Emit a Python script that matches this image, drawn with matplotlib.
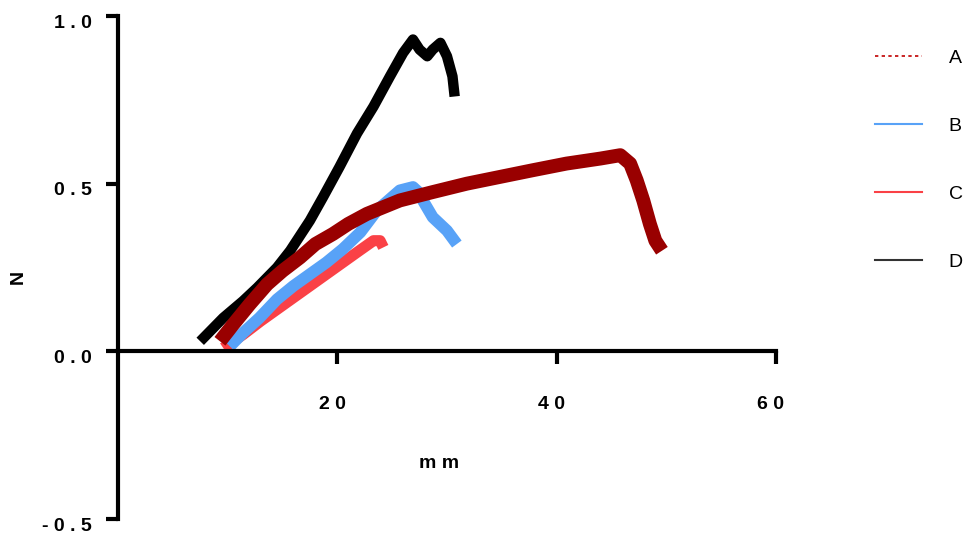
"""Force vs. displacement traces for four samples (Prism-style axes)."""

import matplotlib

matplotlib.use("Agg")
import matplotlib.pyplot as plt
import matplotlib.transforms as mtransforms
from matplotlib.lines import Line2D

plt.rcParams["font.family"] = ["Liberation Sans", "DejaVu Sans"]

# Values (x in mm, y in N).
a_x = [9.3, 10.5, 12.0, 13.6, 15.0, 16.6, 18.0, 19.6, 21.0, 22.7, 25.7, 28.7,
       31.8, 34.8, 37.8, 40.9, 44.0, 45.8, 46.7, 47.3, 47.9, 48.5, 49.0, 49.6]
a_y = [0.03, 0.08, 0.14, 0.20, 0.24, 0.28, 0.32, 0.35, 0.38, 0.41, 0.45, 0.475,
       0.50, 0.52, 0.54, 0.56, 0.575, 0.585, 0.56, 0.51, 0.45, 0.38, 0.33, 0.30]

b_x = [10.2, 11.4, 12.9, 14.5, 16.0, 17.5, 19.0, 20.5, 22.1, 23.6, 25.0, 25.7,
       26.9, 27.4, 27.8, 28.7, 30.0, 30.9]
b_y = [0.015, 0.055, 0.10, 0.155, 0.195, 0.23, 0.265, 0.305, 0.355, 0.42, 0.46, 0.48,
       0.49, 0.475, 0.45, 0.40, 0.36, 0.32]

c_x = [9.6, 10.5, 11.4, 13.0, 14.5, 16.0, 17.5, 19.0, 20.5, 22.0, 23.3, 23.9, 24.2]
c_y = [0.01, 0.03, 0.05, 0.09, 0.125, 0.16, 0.195, 0.23, 0.265, 0.30, 0.33, 0.33, 0.31]

d_x = [7.5, 8.4, 9.6, 11.4, 12.7, 14.5, 15.7, 17.5, 18.7, 20.2, 21.8, 23.3, 24.8,
       26.0, 26.9, 27.5, 28.2, 28.7, 29.4, 30.0, 30.5, 30.7]
d_y = [0.03, 0.06, 0.10, 0.15, 0.19, 0.25, 0.30, 0.39, 0.46, 0.55, 0.65, 0.73, 0.82,
       0.89, 0.93, 0.90, 0.88, 0.90, 0.92, 0.88, 0.82, 0.76]

labels = ["A", "B", "C", "D"]
x_ticks = [20, 40, 60]
y_ticks = [-0.5, 0.0, 0.5, 1.0]

fig = plt.figure(figsize=(9.63, 5.36), dpi=100)
ax = fig.add_axes([0.1225, 0.0317, 0.6833, 0.9384])

# later traces end up on top, so draw D first and A last
ax.plot(d_x, d_y, color="black", lw=7.5, solid_capstyle="butt")
ax.plot(c_x, c_y, color="#fa4146", lw=8, solid_capstyle="butt")
ax.plot(b_x, b_y, color="#58a2f7", lw=8.5, solid_capstyle="butt")
ax.plot(a_x, a_y, color="#990000", lw=10, solid_capstyle="butt")

ax.set_xlim(0, 60)
ax.set_ylim(-0.5, 1.0)

# axes cross at the origin, no frame on top/right
ax.spines["left"].set_position(("data", 0))
ax.spines["bottom"].set_position(("data", 0))
ax.spines["top"].set_visible(False)
ax.spines["right"].set_visible(False)
for side in ["left", "bottom"]:
    ax.spines[side].set_linewidth(3)
    ax.spines[side].set_capstyle("projecting")

# Prism puts a space between every character of the labels
ax.set_xticks(x_ticks)
ax.set_xticklabels([" ".join(str(t)) for t in x_ticks])
ax.set_yticks(y_ticks)
ax.set_yticklabels([" ".join(f"{t:.1f}") for t in y_ticks])
ax.tick_params(axis="both", direction="out", length=9, width=3, labelsize=14)
ax.tick_params(axis="x", pad=23)
ax.tick_params(axis="y", pad=10)
for lab in ax.get_xticklabels() + ax.get_yticklabels():
    lab.set_fontweight("bold")
for lab in ax.get_xticklabels():
    lab.set_transform(lab.get_transform()
                      + mtransforms.ScaledTranslation(-0.05, 0, fig.dpi_scale_trans))
for lab in ax.get_yticklabels():
    lab.set_transform(lab.get_transform()
                      + mtransforms.ScaledTranslation(0, -0.05, fig.dpi_scale_trans))

fig.text(0.456, 0.136, "m m", ha="center", va="center", fontsize=14,
         fontweight="bold")
fig.text(0.019, 0.483, "N", ha="center", va="center", rotation=90,
         fontsize=14, fontweight="bold")

# thin legend handles, A drawn dotted like in the original
handles = [
    Line2D([], [], color="#c00000", lw=1.2, linestyle=(0, (2, 2))),
    Line2D([], [], color="#58a2f7", lw=1.5),
    Line2D([], [], color="#fa4146", lw=1.5),
    Line2D([], [], color="#333333", lw=1.5),
]
fig.legend(handles, labels, loc="upper left", bbox_to_anchor=(0.901, 0.923),
           frameon=False, fontsize=14, handlelength=2.42, handletextpad=1.34,
           labelspacing=2.6, borderaxespad=0)

fig.savefig("out.png", dpi=100)
